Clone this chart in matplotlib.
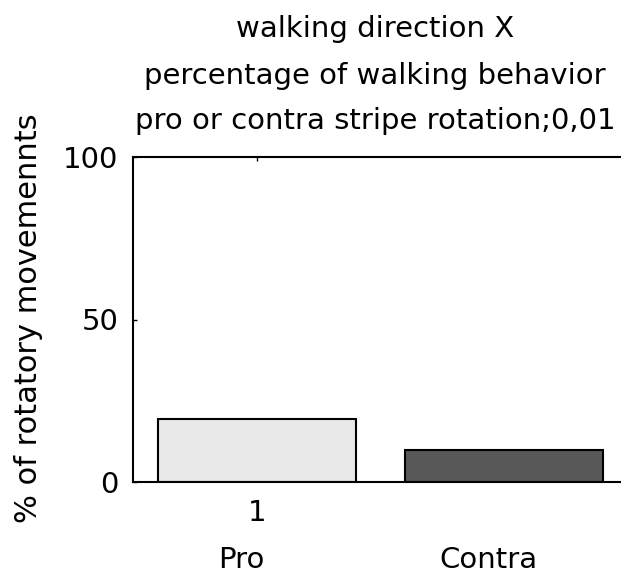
import matplotlib
matplotlib.use('Agg')
import matplotlib.pyplot as plt
import matplotlib.transforms as mtransforms

# Bar data: share of rotatory movements (percent) with / against the stripe rotation
categories = ['Pro', 'Contra']
positions = [1, 2]
percentages = [19.5, 9.7]
bar_colors = ['#e8e8e8', '#585858']

title_lines = [
    'walking direction X',
    'percentage of walking behavior',
    'pro or contra stripe rotation;0,01',
]
ylabel = '% of rotatory movemennts'
yticks = [0, 50, 100]
xticks = [1]
xticklabels = ['1']

W, H = 621, 576
DPI = 100
FS = 21

plt.rcParams['font.family'] = 'DejaVu Sans'

fig = plt.figure(figsize=(W / DPI, H / DPI), dpi=DPI)
# the right part of the axes runs past the figure edge
ax = fig.add_axes([133 / W, (H - 482) / H, 495 / W, 325 / H])

ax.bar(positions, percentages, width=0.8, color=bar_colors,
       edgecolor='black', linewidth=1.5, zorder=2)

ax.set_xlim(0.5, 2.5)
ax.set_ylim(0, 100)
ax.set_yticks(yticks)
ax.set_xticks(xticks)
ax.set_xticklabels(xticklabels)

for side in ['left', 'right', 'top', 'bottom']:
    ax.spines[side].set_linewidth(1.5)
    ax.spines[side].set_zorder(3)

ax.tick_params(axis='both', direction='in', length=3, width=1,
               top=True, right=True, labelsize=FS)
ax.tick_params(axis='y', pad=10.5)
ax.tick_params(axis='x', pad=12.5)

# category names under the bars
trans = mtransforms.blended_transform_factory(ax.transData, ax.transAxes)
for x, name in zip(positions, categories):
    ax.text(x - 0.062, -0.265, name, transform=trans, ha='center',
            va='baseline', fontsize=FS)

# three-line title above the axes
baselines = [37, 84, 129]
for line, yb in zip(title_lines, baselines):
    fig.text(375 / W, 1 - yb / H, line, ha='center', va='baseline',
             fontsize=FS)

fig.text(29 / W, 1 - 318 / H, ylabel, rotation=90, ha='center',
         va='center', fontsize=FS + 1)

fig.savefig('out.png', dpi=DPI)
plt.close(fig)
